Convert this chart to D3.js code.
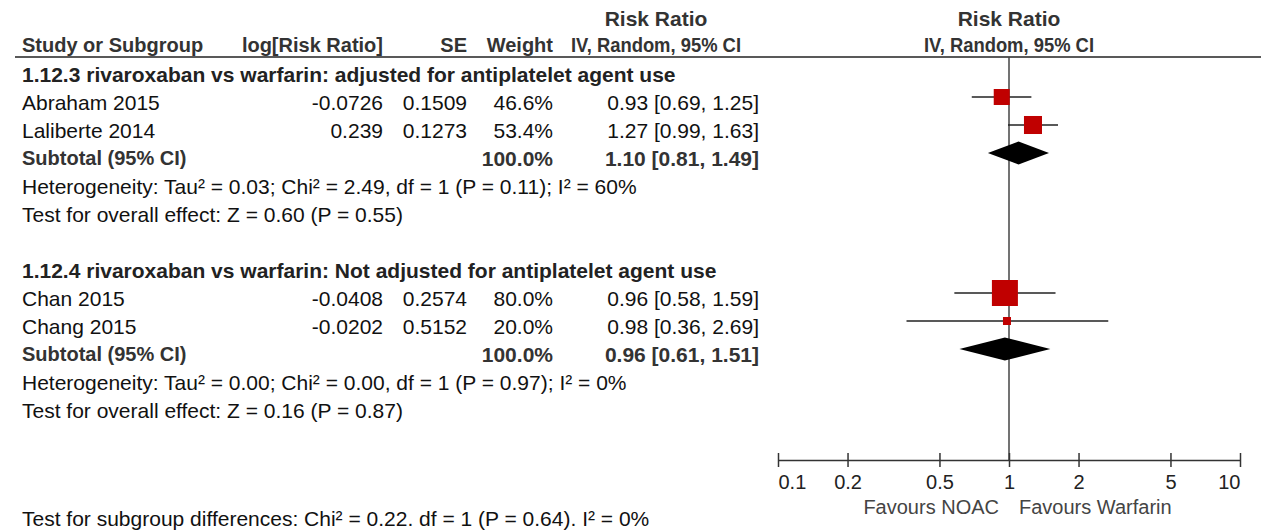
<!DOCTYPE html>
<html>
<head>
<meta charset="utf-8">
<script src="https://cdn.jsdelivr.net/npm/d3@7"></script>
<style>
  body { margin: 0; background: #fff; }
  svg { display: block; font-family: "Liberation Sans", Arial, sans-serif; }
</style>
</head>
<body>
<script>
// studies (one entry per row)
const studyNames = ['Abraham 2015', 'Laliberte 2014', 'Chan 2015', 'Chang 2015'];
const studyGroup = [0, 0, 1, 1];
const logRR = [-0.0726, 0.239, -0.0408, -0.0202];
const stdErr = [0.1509, 0.1273, 0.2574, 0.5152];
const weights = [46.6, 53.4, 80.0, 20.0];
const rr = [0.93, 1.27, 0.96, 0.98];
const rrLow = [0.69, 0.99, 0.58, 0.36];
const rrHigh = [1.25, 1.63, 1.59, 2.69];

// subgroups
const groupTitles = [
  '1.12.3 rivaroxaban vs warfarin: adjusted for antiplatelet agent use',
  '1.12.4 rivaroxaban vs warfarin: Not adjusted for antiplatelet agent use'
];
const subRR = [1.10, 0.96];
const subLow = [0.81, 0.61];
const subHigh = [1.49, 1.51];
const heterogeneity = [
  'Heterogeneity: Tau² = 0.03; Chi² = 2.49, df = 1 (P = 0.11); I² = 60%',
  'Heterogeneity: Tau² = 0.00; Chi² = 0.00, df = 1 (P = 0.97); I² = 0%'
];
const overallEffect = [
  'Test for overall effect: Z = 0.60 (P = 0.55)',
  'Test for overall effect: Z = 0.16 (P = 0.87)'
];
const subgroupDiff = 'Test for subgroup differences: Chi² = 0.22. df = 1 (P = 0.64). I² = 0%';

const tickValues = [0.1, 0.2, 0.5, 1, 2, 5, 10];
const favours = ['Favours NOAC', 'Favours Warfarin'];

// build row list: each group = title, studies, subtotal, heterogeneity, overall, blank
let rows = [];
groupTitles.forEach(function(t, g) {
  rows.push({type: 'title', text: t});
  studyNames.forEach(function(n, i) {
    if (studyGroup[i] == g) {
      rows.push({type: 'study', name: n, lrr: logRR[i], se: stdErr[i], w: weights[i],
                 est: rr[i], lo: rrLow[i], hi: rrHigh[i]});
    }
  });
  rows.push({type: 'subtotal', name: 'Subtotal (95% CI)', w: 100, est: subRR[g], lo: subLow[g], hi: subHigh[g]});
  rows.push({type: 'note', text: heterogeneity[g]});
  rows.push({type: 'note', text: overallEffect[g]});
  rows.push({type: 'blank'});
});
rows.forEach((r, i) => r.idx = i);

const width = 1261;
const height = 531;
const fs = 21;

const svg = d3.select('body').append('svg')
  .attr('width', width)
  .attr('height', height);

// scales
const yScale = d3.scaleLinear().domain([0, 12]).range([74, 410]);
const xScale = d3.scaleLog().domain([0.1, 10]).range([778, 1240]);
const boxSize = d3.scaleLinear().domain([0, 100]).range([2, 32]);
const axisY = 460;
const markShift = -5;

function label(x, y, str, anchor, bold, color, size) {
  return svg.append('text')
    .attr('x', x)
    .attr('y', y)
    .attr('dy', '0.36em')
    .attr('text-anchor', anchor || 'start')
    .attr('font-size', size || fs)
    .attr('font-weight', bold ? 'bold' : 'normal')
    .attr('fill', color || '#111')
    .text(str);
}

// column positions
const col = {name: 22, lrr: 383, se: 467, w: 553, ci: 759, ciMid: 656, plotMid: 1009};

// HEADER
label(col.ciMid, 18, 'Risk Ratio', 'middle', true, '#333');
label(col.plotMid, 18, 'Risk Ratio', 'middle', true, '#333');
label(col.name, 45, 'Study or Subgroup', 'start', true, '#333', 20);
label(col.lrr, 45, 'log[Risk Ratio]', 'end', true, '#333', 20);
label(col.se, 45, 'SE', 'end', true, '#333', 20);
label(col.w, 45, 'Weight', 'end', true, '#333', 20);
// the reference draws this header narrower than the others
[col.ciMid, col.plotMid].forEach(function(x) {
  label(x, 45, 'IV, Random, 95% CI', 'middle', true, '#333', 20)
    .attr('textLength', 170)
    .attr('lengthAdjust', 'spacingAndGlyphs');
});

svg.append('line')
  .attr('x1', 15).attr('x2', width)
  .attr('y1', 57).attr('y2', 57)
  .attr('stroke', '#222').attr('stroke-width', 1.5);

// line of no effect
svg.append('line')
  .attr('x1', xScale(1)).attr('x2', xScale(1))
  .attr('y1', 57).attr('y2', axisY)
  .attr('stroke', '#444').attr('stroke-width', 1.5);

const fmt = d3.format('.2f');
const ciText = d => `${fmt(d.est)} [${fmt(d.lo)}, ${fmt(d.hi)}]`;

// TABLE TEXT
rows.forEach(function(r) {
  const y = yScale(r.idx);
  if (r.type == 'title') {
    label(col.name, y, r.text, 'start', true, '#222');
  } else if (r.type == 'study') {
    label(col.name, y, r.name);
    label(col.lrr, y, String(r.lrr), 'end');
    label(col.se, y, String(r.se), 'end');
    label(col.w, y, r.w.toFixed(1) + '%', 'end');
    label(col.ci, y, ciText(r), 'end');
  } else if (r.type == 'subtotal') {
    label(col.name, y, r.name, 'start', true, '#333', 20);
    label(col.w, y, r.w.toFixed(1) + '%', 'end', true, '#333');
    label(col.ci, y, ciText(r), 'end', true, '#333');
  } else if (r.type == 'note') {
    label(col.name, y, r.text);
  }
});
// bottom line sits at the very edge; nudged up so descenders stay visible
label(col.name, yScale(16) - 4, subgroupDiff);

// FOREST MARKS
const studies = rows.filter(r => r.type == 'study');
const subtotals = rows.filter(r => r.type == 'subtotal');

svg.append('g')
  .selectAll('line')
  .data(studies)
  .join('line')
  .attr('x1', d => xScale(d.lo))
  .attr('x2', d => xScale(d.hi))
  .attr('y1', d => yScale(d.idx) + markShift)
  .attr('y2', d => yScale(d.idx) + markShift)
  .attr('stroke', '#222')
  .attr('stroke-width', 1.5);

svg.append('g')
  .selectAll('rect')
  .data(studies)
  .join('rect')
  .attr('x', d => xScale(d.est) - boxSize(d.w) / 2)
  .attr('y', d => yScale(d.idx) + markShift - boxSize(d.w) / 2)
  .attr('width', d => boxSize(d.w))
  .attr('height', d => boxSize(d.w))
  .attr('fill', '#c00000');

svg.append('g')
  .selectAll('path')
  .data(subtotals)
  .join('path')
  .attr('d', function(d) {
    const cy = yScale(d.idx) + markShift;
    return `M${xScale(d.lo)},${cy} L${xScale(d.est)},${cy - 11.5} L${xScale(d.hi)},${cy} L${xScale(d.est)},${cy + 11.5} Z`;
  })
  .attr('fill', '#000');

// AXIS
const xAxis = d3.axisBottom(xScale)
  .tickValues(tickValues)
  .tickFormat(d => String(d))
  .tickSize(7)
  .tickSizeOuter(0);

const gx = svg.append('g')
  .attr('transform', `translate(0,${axisY})`)
  .call(xAxis);

gx.select('.domain').attr('stroke', '#333').attr('stroke-width', 1.5);
gx.selectAll('.tick line').attr('y1', -7).attr('stroke', '#333').attr('stroke-width', 1.5);
gx.selectAll('.tick text')
  .attr('font-family', '"Liberation Sans", Arial, sans-serif')
  .attr('font-size', 20)
  .attr('fill', '#222')
  .attr('y', 22)
  .attr('dy', '0.36em')
  .attr('text-anchor', (d, i) => i == 0 ? 'start' : (i == tickValues.length - 1 ? 'end' : 'middle'));

label(xScale(1) - 10, 507, favours[0], 'end', false, '#444', 20);
label(xScale(1) + 10, 507, favours[1], 'start', false, '#444', 20);
</script>
</body>
</html>
